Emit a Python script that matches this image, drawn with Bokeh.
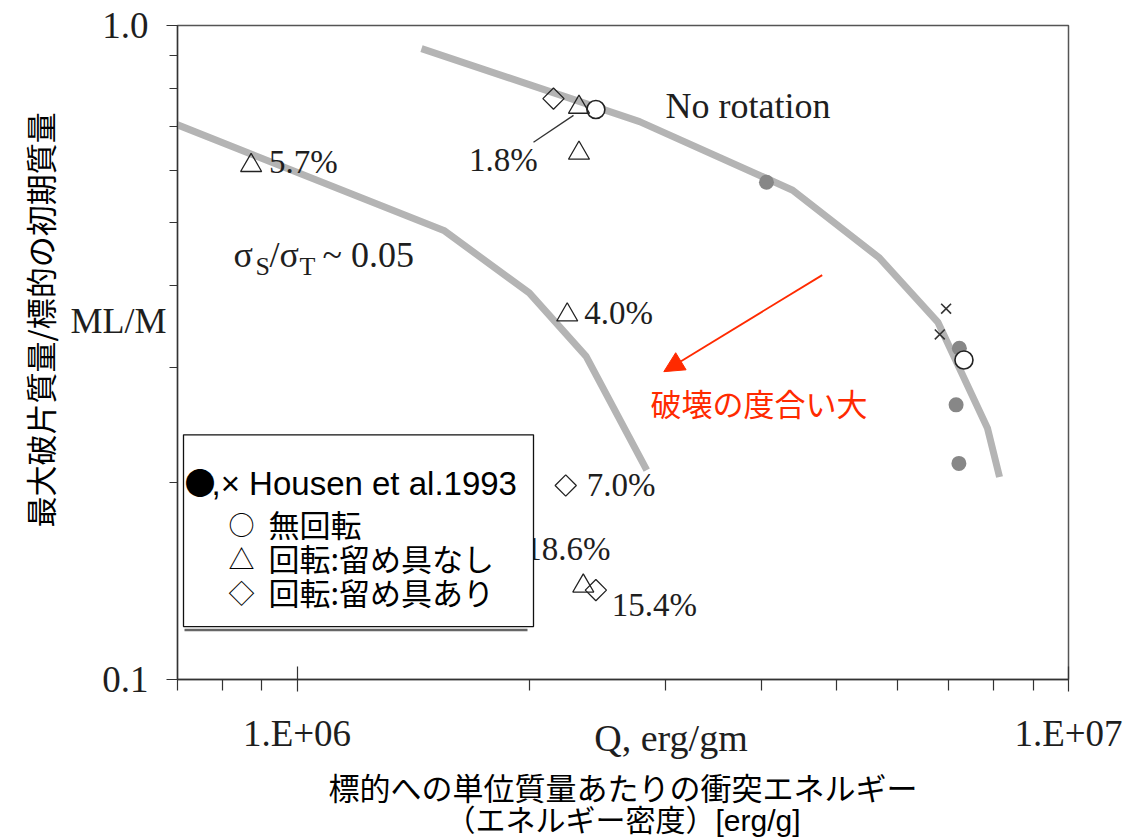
import numpy as np
from bokeh.plotting import figure
from bokeh.models import (Range1d, FixedTicker, PrintfTickFormatter, LogAxis, Title,
                          Arrow, NormalHead, ColumnDataSource)
from bokeh.core.properties import value
from bokeh.embed import file_html
from bokeh.resources import INLINE

# ---------------------------------------------------------------------------
# Data: specific impact energy Q [erg/g] vs. largest fragment fraction ML/M
# ---------------------------------------------------------------------------
# fitted trend for rotating targets (sigma_S / sigma_T ~ 0.05)
curve_rot_q = [6.77e5, 1.55e6, 2.00e6, 2.37e6, 2.84e6]
curve_rot_ml = [0.716, 0.486, 0.390, 0.312, 0.209]

# fitted trend, no rotation
curve_norot_q = [1.45e6, 2.78e6, 4.39e6, 5.69e6, 6.77e6, 7.85e6, 8.14e6]
curve_norot_ml = [0.922, 0.713, 0.560, 0.441, 0.352, 0.2425, 0.204]

# Housen et al. 1993 (filled circles and crosses)
housen_dot_q = [4.06e6, 7.22e6, 7.15e6, 7.21e6]
housen_dot_ml = [0.576, 0.321, 0.263, 0.214]
housen_x_q = [6.94e6, 6.81e6]
housen_x_ml = [0.369, 0.337]

# no rotation (open circles)
norot_q = [2.44e6, 7.32e6]
norot_ml = [0.744, 0.308]

# rotating, no fastener (triangles) with spin labels
spin_free_q = [8.72e5, 2.32e6, 2.32e6, 2.24e6, 2.35e6]
spin_free_ml = [0.611, 0.750, 0.638, 0.361, 0.139]
spin_free_rate = ["5.7%", "1.8%", "", "4.0%", "18.6%"]

# rotating, with fastener (diamonds) with spin labels
spin_fixed_q = [2.15e6, 2.23e6, 2.44e6]
spin_fixed_ml = [0.773, 0.198, 0.137]
spin_fixed_rate = ["", "7.0%", "15.4%"]

# axis ticks
x_major = [1e6, 1e7]
x_minor = [7e5, 8e5, 9e5, 2e6, 3e6, 4e6, 5e6, 6e6, 7e6, 8e6, 9e6]
x_tick_labels = ["1.E+06", "1.E+07"]
y_major = [0.1, 1.0]
y_minor = [0.2, 0.3, 0.4, 0.5, 0.6, 0.7, 0.8, 0.9]

# ---------------------------------------------------------------------------
# Layout constants
# ---------------------------------------------------------------------------
W, H = 1137, 839
FL, FR, FT, FB = 177, 1068, 25, 680
X0, X1 = 7e5, 1e7
Y0, Y1 = 0.1, 1.0
LX0, LX1, LY0, LY1 = np.log10(X0), np.log10(X1), np.log10(Y0), np.log10(Y1)

SERIF = "Liberation Serif"
SANS = "Liberation Sans"
CJK = "Noto Sans CJK JP"
SANS_CJK = "Liberation Sans, Noto Sans CJK JP"
RED = "#ff2a00"
INK = "#1e1e1e"


def sx(px):
    """canvas column -> Q value (for placing annotations)"""
    f = (px - FL) / (FR - FL)
    return float(10 ** (LX0 + f * (LX1 - LX0)))


def sy(py):
    """canvas row -> ML/M value (for placing annotations)"""
    f = (FB - py) / (FB - FT)
    return float(10 ** (LY0 + f * (LY1 - LY0)))


p = figure(width=W, height=H, x_axis_type="log", y_axis_type="log",
           x_range=Range1d(X0, X1), y_range=Range1d(Y0, Y1),
           min_border_left=FL, min_border_right=W - FR,
           min_border_top=FT, min_border_bottom=H - FB,
           toolbar_location=None, output_backend="svg")
p.grid.visible = False
p.background_fill_color = "white"
p.border_fill_color = "white"
p.outline_line_color = "#555555"
p.outline_line_width = 1.5

# x axis
xa = p.xaxis[0]
xa.ticker = FixedTicker(ticks=x_major, minor_ticks=x_minor)
xa.major_label_overrides = {t: s for t, s in zip(x_major, x_tick_labels)}
xa.major_tick_in, xa.major_tick_out = 13, 12
xa.minor_tick_in, xa.minor_tick_out = 0, 11
xa.major_label_standoff = 21
xa.major_label_text_font = SERIF
xa.major_label_text_font_size = "37px"
xa.major_label_text_color = INK

# y axis
ya = p.yaxis[0]
ya.ticker = FixedTicker(ticks=y_major, minor_ticks=y_minor)
ya.formatter = PrintfTickFormatter(format="%.1f")
ya.major_tick_in, ya.major_tick_out = 0, 11
ya.minor_tick_in, ya.minor_tick_out = 0, 8
ya.major_label_standoff = 18
ya.major_label_text_font = SERIF
ya.major_label_text_font_size = "37px"
ya.major_label_text_color = INK

for ax in (xa, ya):
    ax.axis_line_color = "#333333"
    ax.axis_line_width = 1.3
    ax.major_tick_line_color = "#333333"
    ax.minor_tick_line_color = "#333333"
    ax.major_tick_line_width = 1.2
    ax.minor_tick_line_width = 1.2


def title_axis(axis_cls, tick, label, size, standoff):
    """an axis with no rule and a single tick label, used as an axis title"""
    ax = axis_cls(ticker=FixedTicker(ticks=[tick] if tick is not None else [], minor_ticks=[]),
                  axis_line_color=None, major_tick_in=0, major_tick_out=0,
                  minor_tick_in=0, minor_tick_out=0, major_label_standoff=standoff,
                  major_label_text_font=SERIF, major_label_text_font_size=size,
                  major_label_text_color=INK)
    if tick is not None:
        ax.major_label_overrides = {tick: label}
    return ax


# "ML/M" beside the y axis
ml_pos = sy(321)
p.add_layout(title_axis(LogAxis, ml_pos, "ML/M", "36px", -67), "left")
# Japanese y-axis title
p.add_layout(Title(text="最大破片質量/標的の初期質量", align="left", offset=152, standoff=12,
                   text_font=CJK, text_font_size="31px", text_font_style="normal",
                   text_color="black"), "left")

# "Q, erg/gm" between the x tick labels, and the Japanese x-axis title below
q_pos = sx(670.5)
qa = title_axis(LogAxis, q_pos, "Q, erg/gm", "38px", -40)
qa.axis_label = "標的への単位質量あたりの衝突エネルギー"
qa.axis_label_standoff = 10
qa.axis_label_text_font_size = "31px"
p.add_layout(qa, "below")
qb = title_axis(LogAxis, None, "", "10px", 0)
qb.axis_label = "（エネルギー密度）[erg/g]"
qb.axis_label_standoff = -6
qb.axis_label_text_font_size = "30px"
p.add_layout(qb, "below")
for ax in (qa, qb):
    ax.axis_label_text_font = SANS_CJK
    ax.axis_label_text_font_style = "normal"
    ax.axis_label_text_color = "black"

# trend curves
p.line(curve_rot_q, curve_rot_ml, line_color="#b4b4b4", line_width=7)
p.line(curve_norot_q, curve_norot_ml, line_color="#b4b4b4", line_width=7)

# Housen et al. data
p.scatter(housen_dot_q, housen_dot_ml, marker="circle", size=15,
          fill_color="#878787", line_color=None)
p.scatter(housen_x_q, housen_x_ml, marker="x", size=14,
          line_color="#333333", line_width=1.6)

# no rotation
p.scatter(norot_q, norot_ml, marker="circle", size=18,
          fill_color="white", line_color="#222222", line_width=1.6)

# rotating targets
free_src = ColumnDataSource(dict(q=spin_free_q, ml=spin_free_ml, rate=spin_free_rate,
                                 dx=[18, -110, 0, 17, -58], dy=[-3, 53, 0, -2, -37]))
fixed_src = ColumnDataSource(dict(q=spin_fixed_q, ml=spin_fixed_ml, rate=spin_fixed_rate,
                                  dx=[0, 21, 16], dy=[0, 0, 15]))
p.scatter("q", "ml", source=free_src, marker="triangle", size=21,
          fill_color=None, line_color="#222222", line_width=1.3)
p.scatter("q", "ml", source=fixed_src, marker="square", angle=np.pi / 4, size=15,
          fill_color=None, line_color="#222222", line_width=1.3)

# leader line for the 1.8% label
p.segment(x0=[sx(573)], y0=[sy(115)], x1=[sx(533)], y1=[sy(142)],
          line_color="#333333", line_width=1.3)

for src in (free_src, fixed_src):
    p.text("q", "ml", text="rate", source=src, x_offset="dx", y_offset="dy",
           text_font=value(SERIF), text_font_size="33px", text_color=INK,
           text_align="left", text_baseline="middle")

# curve annotations
p.text(x=[sx(665)], y=[sy(105.5)], text=["No rotation"], text_font=value(SERIF),
       text_font_size="36px", text_color=INK, text_baseline="middle")

sig_src = ColumnDataSource(dict(
    x=[sx(233), sx(255), sx(269), sx(299), sx(322)],
    y=[sy(254.5), sy(266), sy(254.5), sy(266), sy(254.5)],
    t=["σ", "S", "/σ", "T", "~ 0.05"],
    fs=["36px", "26px", "36px", "26px", "36px"]))
p.text("x", "y", text="t", source=sig_src, text_font=value(SERIF),
       text_font_size="fs", text_color=INK, text_baseline="middle")

# legend box
p.segment(x0=[sx(184)], y0=[sy(630.5)], x1=[sx(527)], y1=[sy(630.5)],
          line_color="#666666", line_width=2.5)
p.quad(left=[sx(183)], right=[sx(533)], top=[sy(435)], bottom=[sy(627)],
       fill_color="white", line_color="#111111", line_width=1.3)
p.text(x=[sx(184)], y=[sy(481)], text=["●"], text_font=value(CJK),
       text_font_size="31px", text_color="black", text_baseline="middle")
p.text(x=[sx(211)], y=[sy(483.5)], text=[",× Housen et al.1993"], text_font=value(SANS),
       text_font_size="33px", text_color="black", text_baseline="middle")
p.text(x=[sx(228)] * 3, y=[sy(524), sy(558), sy(592)], text=["○", "△", "◇"],
       text_font=value(CJK), text_font_size="26px", text_color="black",
       text_baseline="middle")
p.text(x=[sx(268)] * 3, y=[sy(524), sy(558), sy(592)],
       text=["無回転", "回転:留め具なし", "回転:留め具あり"],
       text_font=value(CJK), text_font_size="31px", text_color="black",
       text_baseline="middle")

# direction of stronger disruption
p.add_layout(Arrow(end=NormalHead(size=20, fill_color=RED, line_color=RED),
                   x_start=sx(821.7), y_start=sy(275), x_end=sx(663.3), y_end=sy(371.7),
                   line_color=RED, line_width=1.8))
p.text(x=[sx(650)], y=[sy(403)], text=["破壊の度合い大"], text_font=value(CJK),
       text_font_size="31px", text_color=RED, text_baseline="middle")

open("out.html", "w").write(file_html(p, INLINE))
